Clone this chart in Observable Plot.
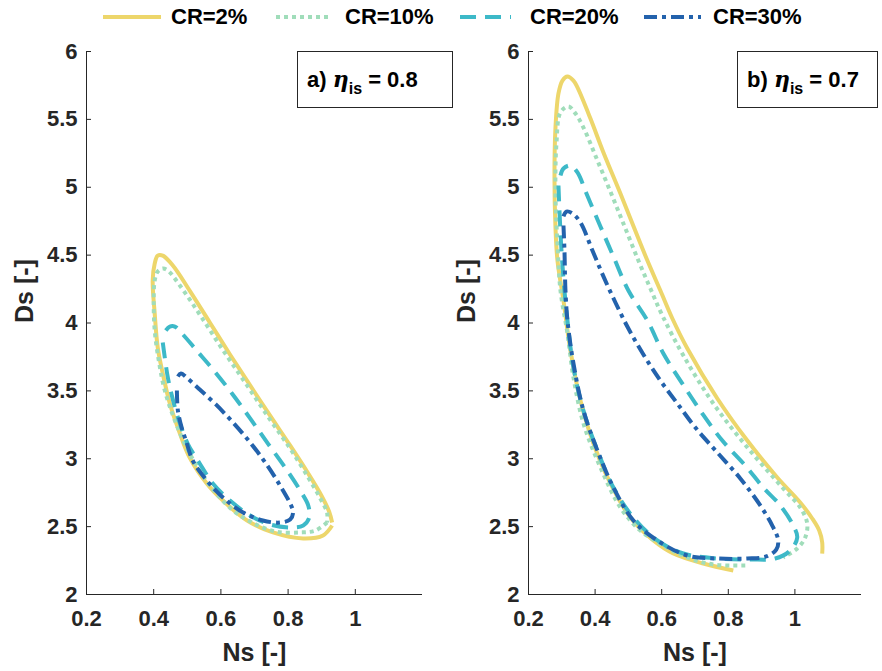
<!DOCTYPE html>
<html>
<head>
<meta charset="utf-8">
<script src="https://cdn.jsdelivr.net/npm/d3@7"></script>
<script src="https://cdn.jsdelivr.net/npm/@observablehq/plot@0.6"></script>
<style>
  html, body { margin: 0; padding: 0; background: #fff; }
  #fig { position: relative; width: 882px; height: 671px; font-family: "Liberation Sans", Arial, Helvetica, sans-serif; font-weight: bold; overflow: hidden; }
  .panel { position: absolute; top: 0; }
  .leg { position: absolute; top: 4px; height: 26px; display: flex; align-items: center; font-size: 22px; color: #000; }
  .box { position: absolute; box-sizing: border-box; border: 1px solid #262626; background: #fff; height: 57px; font-size: 22px; color: #000; white-space: nowrap; }
  .box span.t { position: absolute; left: 9px; top: 14px; }
  .box i { font-family: "DejaVu Serif", serif; font-weight: bold; }
  .box sub { font-size: 16px; vertical-align: -7px; line-height: 0; }
</style>
</head>
<body>
<div id="fig"></div>
<script>
// ---------- data ----------
const seriesNames = ["CR=2%", "CR=10%", "CR=20%", "CR=30%"];
const xTicks = [0.2, 0.4, 0.6, 0.8, 1];
const yTicks = [2, 2.5, 3, 3.5, 4, 4.5, 5, 5.5, 6];
const panelLabels = ["a) ", "b) "];
const etaValues = ["0.8", "0.7"];

// panel a) eta_is = 0.8
const a2_ns  = [0.931,0.904,0.845,0.755,0.678,0.606,0.558,0.507,0.478,0.448,0.427,0.412,0.403,0.397,0.403,0.412,0.427,0.457,0.507,0.567,0.627,0.687,0.746,0.806,0.860,0.899,0.922,0.931];
const a2_ds  = [2.508,2.435,2.413,2.457,2.545,2.692,2.818,3.009,3.186,3.407,3.628,3.820,4.070,4.313,4.438,4.497,4.497,4.424,4.239,4.004,3.768,3.540,3.319,3.098,2.891,2.729,2.611,2.530];
const a10_ns = [0.916,0.881,0.836,0.761,0.687,0.633,0.567,0.507,0.463,0.433,0.415,0.403,0.400,0.403,0.412,0.427,0.442,0.478,0.537,0.603,0.672,0.740,0.806,0.860,0.896,0.916,0.916];
const a10_ds = [2.530,2.471,2.457,2.464,2.538,2.626,2.803,3.039,3.282,3.503,3.724,3.945,4.166,4.313,4.379,4.401,4.387,4.276,4.063,3.812,3.562,3.311,3.075,2.862,2.707,2.604,2.530];
const a20_ns = [0.427,0.433,0.442,0.454,0.472,0.501,0.537,0.576,0.627,0.687,0.746,0.806,0.845,0.863,0.860,0.836,0.791,0.740,0.687,0.633,0.579,0.528,0.487,0.463,0.448,0.436];
const a20_ds = [3.856,3.746,3.599,3.466,3.304,3.112,2.965,2.818,2.692,2.582,2.516,2.494,2.508,2.567,2.656,2.766,2.936,3.112,3.297,3.481,3.650,3.797,3.915,3.974,3.974,3.945];
const a30_ns = [0.469,0.472,0.484,0.496,0.516,0.558,0.606,0.666,0.725,0.776,0.806,0.815,0.809,0.776,0.734,0.687,0.636,0.585,0.537,0.501,0.481,0.472];
const a30_ds = [3.503,3.355,3.223,3.134,2.987,2.840,2.715,2.604,2.545,2.530,2.552,2.604,2.656,2.803,2.965,3.120,3.267,3.400,3.510,3.591,3.628,3.606];

// panel b) eta_is = 0.7
const b2_ns  = [0.815,0.725,0.635,0.575,0.506,0.446,0.395,0.356,0.326,0.305,0.287,0.281,0.278,0.281,0.290,0.302,0.317,0.335,0.347,0.386,0.425,0.476,0.518,0.557,0.596,0.632,0.677,0.767,0.857,0.947,1.016,1.052,1.073,1.082,1.082];
const b2_ds  = [2.177,2.228,2.302,2.398,2.567,2.818,3.112,3.429,3.797,4.166,4.460,4.704,5.072,5.440,5.691,5.786,5.816,5.786,5.735,5.506,5.256,4.954,4.696,4.460,4.239,4.033,3.812,3.444,3.134,2.862,2.678,2.560,2.471,2.383,2.302];
const b10_ns = [0.851,0.755,0.677,0.605,0.536,0.476,0.416,0.365,0.335,0.317,0.296,0.287,0.281,0.284,0.296,0.320,0.341,0.365,0.407,0.452,0.491,0.530,0.566,0.602,0.665,0.755,0.860,0.965,1.016,1.037,1.031,1.007,0.965];
const b10_ds = [2.214,2.221,2.273,2.361,2.471,2.641,2.936,3.260,3.599,3.923,4.239,4.586,4.954,5.322,5.551,5.595,5.543,5.440,5.197,4.932,4.696,4.460,4.254,4.055,3.761,3.407,3.075,2.781,2.641,2.523,2.420,2.339,2.273];
const b20_ns = [0.290,0.293,0.299,0.308,0.317,0.335,0.365,0.407,0.455,0.515,0.587,0.665,0.767,0.866,0.941,0.986,1.007,0.995,0.956,0.905,0.851,0.782,0.722,0.662,0.605,0.557,0.500,0.455,0.416,0.374,0.347,0.326,0.305,0.296];
const b20_ds = [5.013,4.829,4.534,4.239,4.018,3.672,3.355,3.061,2.788,2.567,2.398,2.302,2.265,2.258,2.265,2.324,2.420,2.508,2.656,2.788,2.950,3.134,3.333,3.554,3.775,4.018,4.239,4.490,4.711,4.954,5.109,5.160,5.138,5.087];
const b30_ns = [0.305,0.308,0.311,0.317,0.335,0.365,0.407,0.455,0.515,0.587,0.677,0.767,0.857,0.914,0.944,0.950,0.932,0.896,0.836,0.767,0.701,0.647,0.596,0.545,0.500,0.461,0.425,0.392,0.356,0.332,0.314,0.305];
const b30_ds = [4.718,4.534,4.239,4.018,3.702,3.355,3.061,2.788,2.545,2.398,2.287,2.265,2.265,2.280,2.331,2.398,2.508,2.656,2.855,3.046,3.230,3.407,3.576,3.768,3.959,4.151,4.343,4.534,4.740,4.807,4.821,4.785];

// ---------- styles ----------
const colors = ["#EDD66B", "#A0DDBA", "#3DB9C8", "#2362AC"];
const dashes = [null, "4,4", "16,9", "13,5,4,5"];
const lineW = 4;
const axisColor = "#262626";

function toRows(ns, ds) { return ns.map((v, i) => ({ns: v, ds: ds[i]})); }

const panels = [
  {left: 0, mL: 86, mR: 19, series: [toRows(a2_ns, a2_ds), toRows(a10_ns, a10_ds), toRows(a20_ns, a20_ds), toRows(a30_ns, a30_ds)]},
  {left: 441, mL: 87, mR: 21, series: [toRows(b2_ns, b2_ds), toRows(b10_ns, b10_ds), toRows(b20_ns, b20_ds), toRows(b30_ns, b30_ds)]}
];

const fig = document.getElementById("fig");
const W = 441, H = 671, mT = 51, mB = 77;
const fontFam = "'Liberation Sans', Arial, Helvetica, sans-serif";

panels.forEach((p, pi) => {
  const innerW = W - p.mL - p.mR, innerH = H - mT - mB;
  const marks = [
    Plot.ruleX([0.2], {stroke: axisColor, strokeWidth: 1}),
    Plot.ruleY([2], {stroke: axisColor, strokeWidth: 1}),
    Plot.tickX(xTicks, {x: d => d, stroke: axisColor, strokeWidth: 1, insetTop: innerH - 5}),
    Plot.tickY(yTicks, {y: d => d, stroke: axisColor, strokeWidth: 1, insetRight: innerW - 5}),
    Plot.axisX(xTicks, {tickSize: 0, tickPadding: 16, fontSize: 22, fontWeight: "bold", fill: axisColor, label: null, tickFormat: d => String(d)}),
    Plot.axisY(yTicks, {tickSize: 0, tickPadding: 9, fontSize: 22, fontWeight: "bold", fill: axisColor, label: null, tickFormat: d => String(d)}),
    Plot.text(["Ns [-]"], {frameAnchor: "bottom", dy: 66, fontSize: 25, fontWeight: "bold", fill: axisColor, text: d => d}),
    Plot.text(["Ds [-]"], {frameAnchor: "left", dx: -62, rotate: -90, fontSize: 25, fontWeight: "bold", fill: axisColor, text: d => d})
  ];
  p.series.forEach((rows, si) => {
    marks.push(Plot.line(rows, {x: "ns", y: "ds", stroke: colors[si], strokeWidth: lineW,
      strokeDasharray: dashes[si], strokeLinecap: "butt", strokeLinejoin: "round", curve: "catmull-rom"}));
  });
  const chart = Plot.plot({
    width: W, height: H, marginLeft: p.mL, marginRight: p.mR, marginTop: mT, marginBottom: mB,
    x: {domain: [0.2, 1.2]}, y: {domain: [2, 6]},
    style: {fontFamily: fontFam, fontWeight: "bold", background: "transparent", overflow: "visible"},
    marks
  });
  chart.classList.add("panel");
  chart.style.left = p.left + "px";
  fig.appendChild(chart);
});

// annotation boxes
const boxPos = [{left: 297, width: 156}, {left: 737, width: 141}];
boxPos.forEach((b, i) => {
  const d = document.createElement("div");
  d.className = "box";
  d.style.left = b.left + "px";
  d.style.top = "51px";
  d.style.width = b.width + "px";
  d.innerHTML = `<span class="t">${panelLabels[i]}<i>η</i><sub>is</sub> = ${etaValues[i]}</span>`;
  fig.appendChild(d);
});

// legend
const legPos = [{x: 103, w: 58, tx: 171}, {x: 276, w: 55, tx: 345}, {x: 460, w: 51, tx: 530}, {x: 644, w: 57, tx: 713}];
seriesNames.forEach((name, i) => {
  const lp = legPos[i];
  const ns = "http://www.w3.org/2000/svg";
  const s = document.createElementNS(ns, "svg");
  s.setAttribute("width", lp.w); s.setAttribute("height", 10);
  s.style.position = "absolute"; s.style.left = lp.x + "px"; s.style.top = "12px";
  const l = document.createElementNS(ns, "line");
  l.setAttribute("x1", 0); l.setAttribute("x2", lp.w); l.setAttribute("y1", 5); l.setAttribute("y2", 5);
  l.setAttribute("stroke", colors[i]); l.setAttribute("stroke-width", lineW);
  if (dashes[i]) l.setAttribute("stroke-dasharray", dashes[i]);
  s.appendChild(l);
  fig.appendChild(s);
  const t = document.createElement("div");
  t.className = "leg";
  t.style.left = lp.tx + "px";
  t.textContent = name;
  fig.appendChild(t);
});
</script>
</body>
</html>
